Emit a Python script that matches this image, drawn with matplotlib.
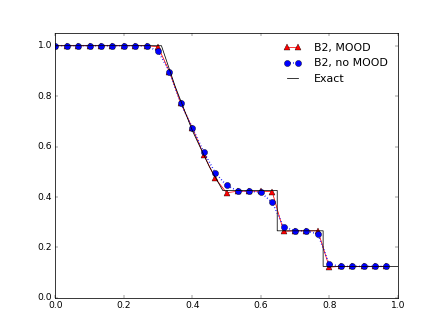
import matplotlib
matplotlib.use('Agg')
import matplotlib.pyplot as plt

plt.style.use('classic')

# cell centres (30 cells)
x = [i / 30.0 for i in range(30)]

rho_mood = [1.0, 1.0, 1.0, 1.0, 1.0, 1.0, 1.0, 1.0, 1.0, 0.996,
            0.897, 0.771, 0.675, 0.568, 0.475, 0.417, 0.423, 0.423, 0.423, 0.421,
            0.264, 0.266, 0.266, 0.266, 0.122, 0.125, 0.125, 0.125, 0.125, 0.125]

rho_nomood = [1.0, 1.0, 1.0, 1.0, 1.0, 1.0, 1.0, 1.0, 0.998, 0.979,
              0.897, 0.771, 0.675, 0.579, 0.497, 0.446, 0.424, 0.423, 0.418, 0.379,
              0.282, 0.266, 0.266, 0.253, 0.134, 0.125, 0.125, 0.125, 0.125, 0.125]

# exact solution
x_exact = [0.0, 0.31, 0.35, 0.40, 0.45, 0.489, 0.648, 0.648, 0.782, 0.782, 1.0]
rho_exact = [1.0, 1.0, 0.839, 0.664, 0.520, 0.426, 0.426, 0.266, 0.266, 0.125, 0.125]

fig = plt.figure(figsize=(442 / 55.0, 331 / 55.0), dpi=55)
ax = fig.add_subplot(111)

ax.plot(x, rho_mood, 'r-^', markersize=7, label='B2, MOOD')
ax.plot(x, rho_nomood, 'b:o', markersize=8, linewidth=2, label='B2, no MOOD')
ax.plot(x_exact, rho_exact, 'k-', label='Exact')

ax.set_xlim(0, 1)
ax.set_ylim(0, 1.05)
ax.legend(loc='upper right', frameon=False, handlelength=1.6, handletextpad=1.2)

fig.savefig('out.png', dpi=55)
